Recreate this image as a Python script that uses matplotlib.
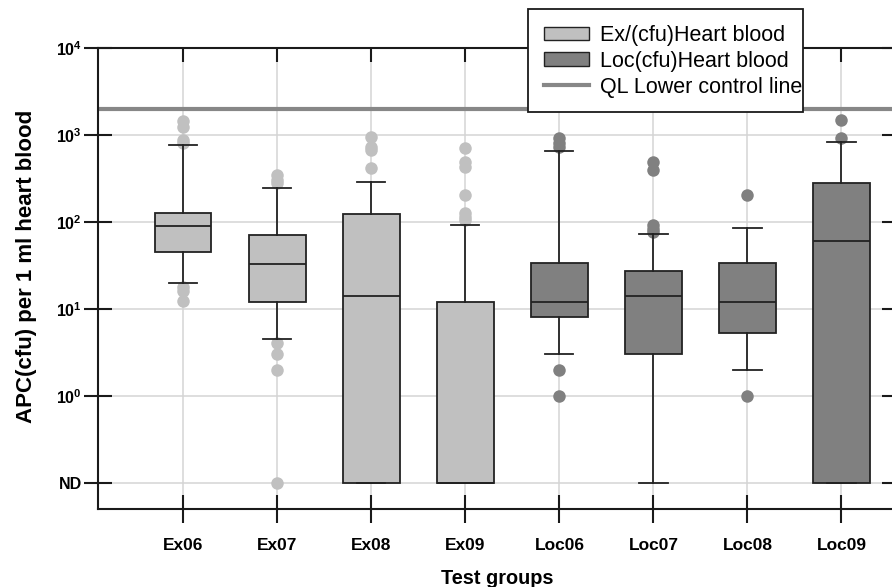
import matplotlib
matplotlib.use("Agg")
import matplotlib.pyplot as plt
from matplotlib.patches import Patch, Rectangle
from matplotlib.lines import Line2D

plt.rcParams['font.family'] = ['Liberation Sans', 'DejaVu Sans']
plt.rcParams['mathtext.fontset'] = 'custom'
plt.rcParams['mathtext.bf'] = 'Liberation Sans:bold'
plt.rcParams['mathtext.rm'] = 'Liberation Sans:bold'

# box statistics (ND plotted at 0.1)
groups = ['Ex06', 'Ex07', 'Ex08', 'Ex09', 'Loc06', 'Loc07', 'Loc08', 'Loc09']
q1 = [45, 12, 0.1, 0.1, 8, 3, 5.2, 0.1]
med = [90, 33, 14, 0.1, 12, 14, 12, 61]
q3 = [127, 71, 122, 12, 34, 27, 34, 280]
whislo = [19.7, 4.5, 0.1, 0.1, 3.0, 0.1, 2.0, 0.1]
whishi = [760, 245, 288, 91, 660, 72, 84, 825]
fliers = [
    [1450, 1250, 880, 800, 18, 16, 12.3],
    [345, 300, 280, 4, 3, 2, 0.1],
    [940, 730, 670, 420],
    [710, 490, 425, 204, 125, 115, 105],
    [915, 800, 730, 2, 1],
    [490, 390, 91, 83, 77],
    [205, 1],
    [1500, 915],
]
ql_line = 2000
ytick_vals = [0.1, 1, 10, 100, 1000, 10000]
ytick_labels = ['ND', r'$\mathbf{10^{0}}$', r'$\mathbf{10^{1}}$', r'$\mathbf{10^{2}}$',
                r'$\mathbf{10^{3}}$', r'$\mathbf{10^{4}}$']

ex_color = '#c0c0c0'
loc_color = '#808080'
edge = '#222222'
spine_c = '#1a1a1a'

fig = plt.figure(figsize=(8.92, 5.87), dpi=100)
ax = fig.add_axes([98 / 892, 78 / 587, 798 / 892, 461 / 587])

stats = []
for i, g in enumerate(groups):
    stats.append(dict(label=g, q1=q1[i], med=med[i], q3=q3[i],
                      whislo=whislo[i], whishi=whishi[i], fliers=fliers[i]))

positions = list(range(len(groups)))
res = ax.bxp(stats, positions=positions, widths=0.6, capwidths=0.3,
             patch_artist=True, showfliers=True,
             boxprops=dict(edgecolor=edge, linewidth=1.3),
             medianprops=dict(color=edge, linewidth=1.3),
             whiskerprops=dict(color=edge, linewidth=1.3),
             capprops=dict(color=edge, linewidth=1.3),
             flierprops=dict(marker='o', markersize=9, markeredgewidth=0))

for i, g in enumerate(groups):
    c = ex_color if g.startswith('Ex') else loc_color
    res['boxes'][i].set_facecolor(c)
    res['fliers'][i].set_markerfacecolor(c)
    res['fliers'][i].set_markeredgecolor(c)
    res['fliers'][i].set_zorder(1.5)

ax.axhline(ql_line, color='#878787', linewidth=3, zorder=2.5)

ax.set_yscale('log')
ax.set_ylim(10 ** -1.303, 10 ** 4)
ax.set_xlim(-0.907, 7.58)
ax.set_yticks(ytick_vals)
ax.set_yticklabels(ytick_labels)
ax.minorticks_off()
ax.set_xticks(positions)
ax.set_xticklabels(groups, fontsize=12.5, fontweight='bold')
for lab in ax.get_yticklabels():
    lab.set_fontsize(11.5)
    lab.set_fontweight('bold')

ax.grid(True, color='#d4d4d4', linewidth=1.1)
ax.set_axisbelow(True)

for s in ax.spines.values():
    s.set_linewidth(1.5)
    s.set_color(spine_c)

ax.tick_params(axis='both', direction='inout', length=19.5, width=1.5, color=spine_c)
ax.tick_params(axis='y', pad=2)
ax.tick_params(axis='x', pad=11)

# inward ticks on top and right
axt = ax.twiny()
axt.set_xlim(ax.get_xlim())
axt.set_xticks(positions)
axt.tick_params(direction='in', length=10, width=1.5, color=spine_c, labeltop=False)
axr = ax.twinx()
axr.set_yscale('log')
axr.set_ylim(ax.get_ylim())
axr.set_yticks(ytick_vals)
axr.minorticks_off()
axr.tick_params(direction='in', length=10, width=1.5, color=spine_c, labelright=False)
for a in (axt, axr):
    for s in a.spines.values():
        s.set_visible(False)

ax.set_xlabel('Test groups', fontsize=14.3, fontweight='bold', labelpad=12)
ax.set_ylabel('APC(cfu) per 1 ml heart blood', fontsize=16, fontweight='bold')
ax.yaxis.set_label_coords(-(98 - 37) / 798, 0.526)

# legend box: the last label runs right up to the frame in the original
fig.patches.append(Rectangle((528 / 892, 1 - 112 / 587), 275 / 892, 103 / 587,
                             transform=fig.transFigure, facecolor='white',
                             edgecolor=spine_c, linewidth=1.3, zorder=9))
handles = [Patch(facecolor=ex_color, edgecolor=edge, linewidth=1),
           Patch(facecolor=loc_color, edgecolor=edge, linewidth=1),
           Line2D([], [], color='#878787', linewidth=3)]
leg = fig.legend(handles, ['Ex/(cfu)Heart blood', 'Loc(cfu)Heart blood', 'QL Lower control line'],
                 loc='upper left', bbox_to_anchor=(528 / 892, 1 - 9 / 587),
                 borderaxespad=0, fontsize=15.5, frameon=False,
                 handlelength=2.1, handleheight=0.6, handletextpad=0.5,
                 labelspacing=0.22, borderpad=0.75)
leg.set_zorder(10)

fig.savefig('out.png', dpi=100)
